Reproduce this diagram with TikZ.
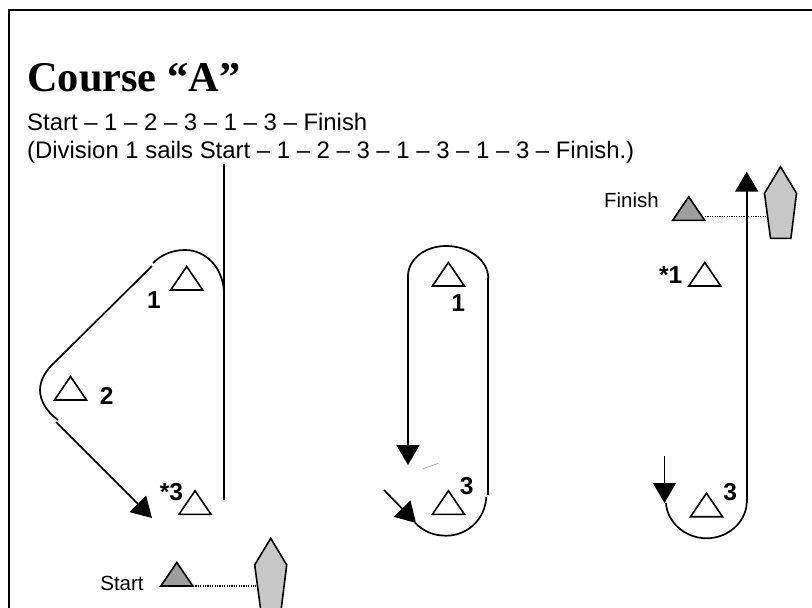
\documentclass[tikz,border=0pt]{standalone}
\usepackage{fontspec}
\setmainfont{Liberation Sans}
\newfontfamily\titlefont{Liberation Serif}
\usetikzlibrary{arrows.meta}
\tikzset{
  course/.style={draw=black,line width=1.7pt},
  courseArrow/.style={course,-{Triangle[length=20pt,width=23pt]}},
  buoystyle/.style={draw=black,line width=1.6pt,fill=white,line join=miter},
  startbuoy/.style={buoystyle,fill=black!38},
  boatstyle/.style={draw=black,line width=1.6pt,fill=black!22,line join=miter},
  dotline/.style={draw=black,line width=1.1pt,dash pattern=on 1.2pt off 1.2pt},
  body/.style={inner sep=0pt,anchor=base west,font=\fontsize{23.9}{24}\selectfont},
  small/.style={inner sep=0pt,font=\fontsize{20.5}{21}\selectfont},
  num/.style={inner sep=0pt,font=\fontsize{24.5}{25}\selectfont\bfseries}
}
\newcommand{\buoy}[3][buoystyle]{\draw[#1] (#2-16,#3) -- (#2,#3-23.5) -- (#2+16,#3) -- cycle;}
\newcommand{\boatshape}[2]{\draw[boatstyle] (#1,#2) -- (#1+16,#2+26.6) -- (#1+10.4,#2+71.6) -- (#1-10,#2+71.6) -- (#1-16,#2+26.6) -- cycle;}
\begin{document}
\begin{tikzpicture}[x=1pt,y=-1pt]
\useasboundingbox (0,0) rectangle (812,608);
\begin{scope}
\clip (0,0) rectangle (812,608);
% frame
\coordinate (frameA) at (9,608);
\coordinate (frameB) at (9,10);
\coordinate (frameC) at (812,10);
\draw[line width=1.7pt] (frameA) -- (frameB) -- (frameC);
% titles
\node[inner sep=0pt,anchor=base west,font=\titlefont\bfseries\fontsize{42.4}{42}\selectfont] (title) at (27,91.5) {Course “A”};
\node[body] (line1) at (27,130.5) {Start – 1 – 2 – 3 – 1 – 3 – Finish};
\node[body] (line2) at (27,158) {(Division 1 sails Start – 1 – 2 – 3 – 1 – 3 – 1 – 3 – Finish.)};
% left course
\draw[course] (224,164) -- (224,500);
\draw[course] (224,292) .. controls (223,268) and (206,250) .. (185,250) .. controls (172,250) and (161,255) .. (153,263);
\draw[course] (152,266) -- (55,362);
\draw[course] (55,362) .. controls (46,370) and (40,380) .. (40,390) .. controls (40,401) and (47,412) .. (58,420);
\draw[courseArrow] (56,422) -- (152,518);
\buoy{186.7}{290}
\buoy{70.5}{400}
\buoy{195}{514.3}
\buoy[startbuoy]{176.8}{586}
\node[num] (l1) at (154,300) {1};
\node[num] (l2) at (106.7,396) {2};
\node[num] (l3) at (171.5,492) {*3};
\node[small] (start) at (122,583) {Start};
\boatshape{270.7}{538.3}
\draw[dotline] (193,586) -- (256,586);
% middle course
\draw[courseArrow] (408,275) -- (408,465);
\draw[course] (408,275) .. controls (409,258) and (426,246) .. (446,246) .. controls (469,246) and (488,260) .. (488.3,278);
\draw[course] (488.3,278) -- (488.3,495);
\draw[course] (486.3,497) .. controls (485,520) and (467,535.7) .. (446,535.7) .. controls (433,535.7) and (423,531) .. (415,522.7);
\draw[courseArrow] (384,490) -- (416,523);
\draw[draw=black!45,line width=0.5pt] (423.3,468.7) -- (438.3,463.3);
\buoy{448.4}{286}
\buoy{448.4}{514.3}
\node[num] (m1) at (458.3,303) {1};
\node[num] (m3) at (466.7,486) {3};
% right course
\draw[courseArrow] (746.7,503) -- (746.7,171.7);
\draw[course] (746.7,503) .. controls (746,522) and (728,538.3) .. (706.7,538.3) .. controls (685,538.3) and (667,522) .. (666,503);
\draw[courseArrow] (664.5,456) -- (664.5,503);
\buoy{706.5}{516.7}
\buoy{704.8}{286}
\buoy[startbuoy]{688.7}{220.3}
\node[num] (r3) at (730.3,492) {3};
\node[num] (r1) at (670.7,275) {*1};
\node[small] (finish) at (631.5,200) {Finish};
\boatshape{780.5}{166.7}
\draw[dotline] (705,216.7) -- (766,216.7);
\end{scope}
\end{tikzpicture}
\end{document}
